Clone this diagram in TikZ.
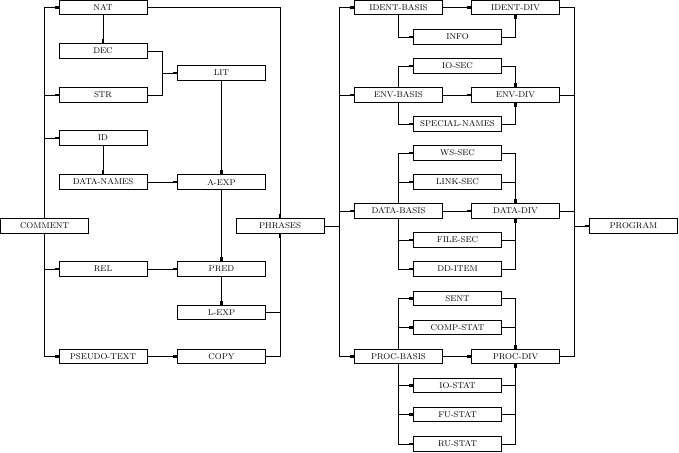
\documentclass[tikz,border=0pt]{standalone}
\usepackage{amsmath}
\usetikzlibrary{positioning}
\usetikzlibrary{calc}
\usetikzlibrary{arrows.meta}

\tikzset{
  blk/.style={draw, align=center, minimum width=88pt, minimum height=14.5pt,
    inner sep=0pt, font=\fontsize{8.4}{10}\selectfont},
  tip/.style={-{Rectangle[length=4pt, width=2.5pt]}}
}

\begin{document}
\begin{tikzpicture}[x=1pt, y=-1pt, line width=0.8pt]

\useasboundingbox (0, 0) rectangle (679, 452);

\pgfmathsetmacro{\CM}{44.5}
\pgfmathsetmacro{\CA}{103}
\pgfmathsetmacro{\CB}{221.5}
\pgfmathsetmacro{\CP}{280}
\pgfmathsetmacro{\CBS}{398.5}
\pgfmathsetmacro{\CS}{457.5}
\pgfmathsetmacro{\CD}{515.5}
\pgfmathsetmacro{\CG}{633.5}
\pgfmathsetmacro{\HALF}{15}

% left half
\node [blk] (comment) at (\CM, 226) {COMMENT};
\node [blk] (nat) at (\CA, 7.5) {NAT};
\node [blk] (dec) at (\CA, 51) {DEC};
\node [blk] (str) at (\CA, 95) {STR};
\node [blk] (id) at (\CA, 138) {ID};
\node [blk] (dnames) at (\CA, 182) {DATA-NAMES};
\node [blk] (rel) at (\CA, 269) {REL};
\node [blk] (pseudo) at (\CA, 356.5) {PSEUDO-TEXT};

\node [blk] (lit) at (\CB, 73) {LIT};
\node [blk] (aexp) at (\CB, 182) {A-EXP};
\node [blk] (pred) at (\CB, 269) {PRED};
\node [blk] (lexp) at (\CB, 312.5) {L-EXP};
\node [blk] (copy) at (\CB, 356.5) {COPY};

\node [blk] (phrases) at (\CP, 226) {PHRASES};

% right half
\node [blk] (identb) at (\CBS, 7.5) {IDENT-BASIS};
\node [blk] (identd) at (\CD, 7.5) {IDENT-DIV};
\node [blk] (info) at (\CS, 37) {INFO};

\node [blk] (iosec) at (\CS, 66) {IO-SEC};
\node [blk] (envb) at (\CBS, 95) {ENV-BASIS};
\node [blk] (envd) at (\CD, 95) {ENV-DIV};
\node [blk] (special) at (\CS, 124) {SPECIAL-NAMES};

\node [blk] (wssec) at (\CS, 153) {WS-SEC};
\node [blk] (linksec) at (\CS, 182) {LINK-SEC};
\node [blk] (datab) at (\CBS, 211) {DATA-BASIS};
\node [blk] (datad) at (\CD, 211) {DATA-DIV};
\node [blk] (filesec) at (\CS, 240) {FILE-SEC};
\node [blk] (dditem) at (\CS, 269) {DD-ITEM};

\node [blk] (sent) at (\CS, 298.5) {SENT};
\node [blk] (compstat) at (\CS, 327.5) {COMP-STAT};
\node [blk] (procb) at (\CBS, 356.5) {PROC-BASIS};
\node [blk] (procd) at (\CD, 356.5) {PROC-DIV};
\node [blk] (iostat) at (\CS, 385.5) {IO-STAT};
\node [blk] (fustat) at (\CS, 414.5) {FU-STAT};
\node [blk] (rustat) at (\CS, 444) {RU-STAT};

\node [blk] (program) at (\CG, 226) {PROGRAM};

% left connectors
\draw [tip] (comment.north) |- (nat.west);
\draw [tip] (comment.north) |- (str.west);
\draw [tip] (comment.north) |- (id.west);
\draw [tip] (comment.south) |- (rel.west);
\draw [tip] (comment.south) |- (pseudo.west);

\draw [tip] (nat.south) -- (dec.north);
\draw [tip] (id.south) -- (dnames.north);
\draw [tip] (dec.east) -- ++(\HALF, 0) |- (lit.west);
\draw [tip] (str.east) -- ++(\HALF, 0) |- (lit.west);
\draw [tip] (dnames.east) -- (aexp.west);
\draw [tip] (lit.south) -- (aexp.north);
\draw [tip] (aexp.south) -- (pred.north);
\draw [tip] (rel.east) -- (pred.west);
\draw [tip] (pred.south) -- (lexp.north);
\draw [tip] (pseudo.east) -- (copy.west);

\draw [tip] (nat.east) -| (phrases.north);
\draw [tip] (lexp.east) -| (phrases.south);
\draw [tip] (copy.east) -| (phrases.south);

% right connectors
\draw [tip] (phrases.east) -- ++(\HALF, 0) |- (identb.west);
\draw [tip] (phrases.east) -- ++(\HALF, 0) |- (envb.west);
\draw [tip] (phrases.east) -- ++(\HALF, 0) |- (datab.west);
\draw [tip] (phrases.east) -- ++(\HALF, 0) |- (procb.west);

\draw [tip] (identb.east) -- (identd.west);
\draw [tip] (envb.east) -- (envd.west);
\draw [tip] (datab.east) -- (datad.west);
\draw [tip] (procb.east) -- (procd.west);

\draw [tip] (identb.south) |- (info.west);
\draw [tip] (info.east) -| (identd.south);

\draw [tip] (envb.north) |- (iosec.west);
\draw [tip] (iosec.east) -| (envd.north);
\draw [tip] (envb.south) |- (special.west);
\draw [tip] (special.east) -| (envd.south);

\draw [tip] (datab.north) |- (wssec.west);
\draw [tip] (datab.north) |- (linksec.west);
\draw [tip] (wssec.east) -| (datad.north);
\draw [tip] (linksec.east) -| (datad.north);
\draw [tip] (datab.south) |- (filesec.west);
\draw [tip] (datab.south) |- (dditem.west);
\draw [tip] (filesec.east) -| (datad.south);
\draw [tip] (dditem.east) -| (datad.south);

\draw [tip] (procb.north) |- (sent.west);
\draw [tip] (procb.north) |- (compstat.west);
\draw [tip] (sent.east) -| (procd.north);
\draw [tip] (compstat.east) -| (procd.north);
\draw [tip] (procb.south) |- (iostat.west);
\draw [tip] (procb.south) |- (fustat.west);
\draw [tip] (procb.south) |- (rustat.west);
\draw [tip] (iostat.east) -| (procd.south);
\draw [tip] (fustat.east) -| (procd.south);
\draw [tip] (rustat.east) -| (procd.south);

\draw [tip] (identd.east) -- ++(14, 0) |- (program.west);
\draw [tip] (envd.east) -- ++(14, 0) |- (program.west);
\draw [tip] (datad.east) -- ++(14, 0) |- (program.west);
\draw [tip] (procd.east) -- ++(14, 0) |- (program.west);

\end{tikzpicture}
\end{document}
